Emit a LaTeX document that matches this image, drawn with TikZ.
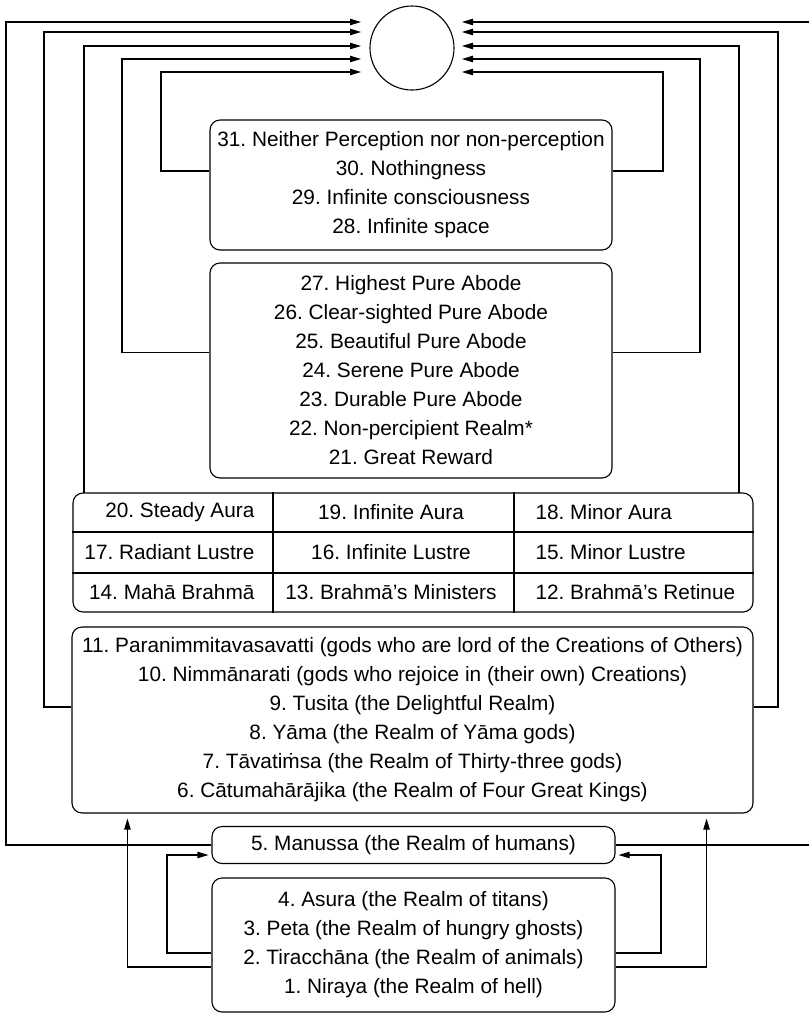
\documentclass[tikz,border=0pt]{standalone}
\usepackage{fontspec}
\setmainfont{Liberation Sans}
\usetikzlibrary{arrows.meta,calc}
\frenchspacing

\tikzset{
  realm/.style={draw,rounded corners=5pt,align=center,inner sep=0pt,font=\fontsize{10.4}{14.5}\selectfont},
  cell/.style={inner sep=0pt,font=\fontsize{10.4}{14.5}\selectfont},
  arr/.style={-{Triangle[length=5.5pt,width=3.2pt]}},
}

\begin{document}
\begin{tikzpicture}[x=0.5pt,y=-0.5pt,line width=0.55pt]
    \useasboundingbox(0,0)rectangle(809,1013);\clip(0,0)rectangle(809,1013);

    \node[draw,circle,minimum size=42pt,inner sep=0pt](circ)at(412,48){};

    \node[realm,minimum width=201pt,minimum height=65pt](arupa)at(411,185){31. Neither Perception nor non-perception\\30. Nothingness\\29. Infinite consciousness\\28. Infinite space};
    \node[realm,minimum width=201pt,minimum height=107.5pt](suddha)at(411,370.5){27. Highest Pure Abode\\26. Clear-sighted Pure Abode\\25. Beautiful Pure Abode\\24. Serene Pure Abode\\23. Durable Pure Abode\\22. Non-percipient Realm*\\21. Great Reward};

    % the sixteen realms of form, in a grid
    \node[realm,minimum width=340pt,minimum height=59.5pt](rupa)at(413,552.5){};
    \foreach\y in{532,573}{\draw(rupa.west|-0,\y)--(rupa.east|-0,\y);};
    \foreach\x in{273,514}{\draw(rupa.north-|\x,0)--(rupa.south-|\x,0);};
    \node[cell,anchor=east](c20)at(255,512.5){20. Steady Aura};\node[cell](c19)at(391,512.5){19. Infinite Aura};\node[cell,anchor=west](c18)at(535,512.5){18. Minor Aura};
    \node[cell,anchor=east](c17)at(255,552.5){17. Radiant Lustre};\node[cell](c16)at(391,552.5){16. Infinite Lustre};\node[cell,anchor=west](c15)at(535,552.5){15. Minor Lustre};
    \node[cell,anchor=east](c14)at(255,592.5){14. Mahā Brahmā};\node[cell](c13)at(391,592.5){13. Brahmā’s Ministers};\node[cell,anchor=west](c12)at(535,592.5){12. Brahmā’s Retinue};

    \node[realm,minimum width=340.5pt,minimum height=93pt](kama)at(412.5,720){11. Paranimmitavasavatti (gods who are lord of the Creations of Others)\\10. Nimmānarati (gods who rejoice in (their own) Creations)\\9. Tusita (the Delightful Realm)\\8. Yāma (the Realm of Yāma gods)\\7. Tāvatiṁsa (the Realm of Thirty-three gods)\\6. Cātumahārājika (the Realm of Four Great Kings)};
    \node[realm,minimum width=201.5pt,minimum height=18.5pt](manussa)at(413.5,845){5. Manussa (the Realm of humans)};
    \node[realm,minimum width=201.5pt,minimum height=67pt](apaya)at(413.5,945){4. Asura (the Realm of titans)\\3. Peta (the Realm of hungry ghosts)\\2. Tiracchāna (the Realm of animals)\\1. Niraya (the Realm of hell)};

    % loops up to the circle
    \coordinate(sL1)at(manussa.west);\coordinate(sR1)at(manussa.east);
    \coordinate(sL2)at($(kama.west)+(0,-13)$);\coordinate(sR2)at($(kama.east)+(0,-13)$);
    \coordinate(sL3)at($(rupa.north west)+(11,0)$);\coordinate(sR3)at($(rupa.north east)+(-14,0)$);
    \coordinate(sL4)at($(suddha.west)+(0,-18)$);\coordinate(sR4)at($(suddha.east)+(0,-18)$);
    \coordinate(sL5)at($(arupa.west)+(0,-14)$);\coordinate(sR5)at($(arupa.east)+(0,-14)$);
    \foreach\i/\x/\y in{1/6/22,2/44/32,3/84/46,4/122/59,5/161/72}{\coordinate(tL\i)at(361,\y);\draw[arr](sL\i)-|(\x,\y)--(tL\i);};
    \foreach\i/\x/\y in{1/830/22,2/778/32,3/739/46,4/700/59,5/663/72}{\coordinate(tR\i)at(462,\y);\draw[arr](sR\i)-|(\x,\y)--(tR\i);};

    % from the lower realms
    \draw[arr,shorten >=2.5pt]($(apaya.west)+(0,22)$)-|($(kama.south west)+(56,0)$);
    \draw[arr,shorten >=2.5pt]($(apaya.east)+(0,22)$)-|($(kama.south east)+(-47,0)$);
    \draw[arr,shorten >=1.5pt]($(apaya.west)+(0,8)$)-|(167,855)--($(manussa.west)+(0,10)$);
    \draw[arr,shorten >=1.5pt]($(apaya.east)+(0,8)$)-|(661,855)--($(manussa.east)+(0,10)$);
\end{tikzpicture}
\end{document}
